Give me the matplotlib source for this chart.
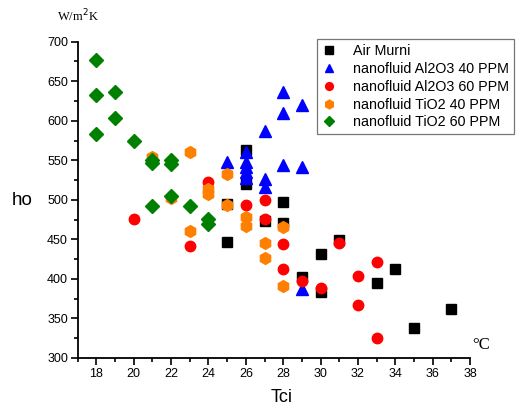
import numpy as np
import matplotlib
matplotlib.use('Agg')
import matplotlib.pyplot as plt
from matplotlib.ticker import MultipleLocator

# data (Tci in degC, ho in W/m2K)
air_x = [26, 26, 25, 25, 27, 28, 28, 29, 30, 30, 31, 33, 34, 35, 37]
air_y = [563, 520, 495, 447, 473, 497, 471, 403, 432, 384, 449, 395, 412, 338, 362]

al40_x = [25, 26, 26, 26, 26, 26, 27, 27, 27, 28, 28, 28, 29, 29, 29]
al40_y = [548, 561, 548, 542, 535, 528, 587, 527, 516, 637, 610, 544, 620, 542, 387]

al60_x = [20, 23, 24, 26, 27, 27, 28, 28, 29, 30, 31, 32, 32, 33, 33]
al60_y = [476, 442, 523, 493, 500, 476, 444, 413, 397, 388, 445, 404, 367, 421, 325]

ti40_x = [21, 22, 23, 23, 24, 24, 25, 25, 26, 26, 27, 27, 28, 28]
ti40_y = [554, 502, 560, 461, 514, 508, 533, 494, 478, 467, 446, 426, 466, 391]

ti60_x = [18, 18, 18, 19, 19, 20, 21, 21, 21, 22, 22, 22, 23, 24, 24]
ti60_y = [677, 633, 583, 637, 603, 574, 551, 546, 492, 551, 545, 505, 492, 476, 469]

labels = ['Air Murni', 'nanofluid Al2O3 40 PPM', 'nanofluid Al2O3 60 PPM',
          'nanofluid TiO2 40 PPM', 'nanofluid TiO2 60 PPM']

plt.rcParams['font.family'] = ['Liberation Sans', 'DejaVu Sans']

fig = plt.figure(figsize=(5.16, 4.07), dpi=100)
ax = fig.add_axes([0.1506, 0.1204, 0.7604, 0.7771])

ax.plot(air_x, air_y, 's', color='black', ms=7.5, ls='none', label=labels[0])
ax.plot(al40_x, al40_y, '^', color='#0000ff', ms=8, ls='none', label=labels[1])
ax.plot(al60_x, al60_y, 'o', color='#ff0000', ms=7.5, ls='none', label=labels[2])
ax.plot(ti40_x, ti40_y, 'h', color='#ff8000', ms=8.5, ls='none', label=labels[3])
ax.plot(ti60_x, ti60_y, 'D', color='#008000', ms=7, ls='none', label=labels[4])

ax.set_xlim(17, 38)
ax.set_ylim(300, 700)
ax.xaxis.set_major_locator(MultipleLocator(2))
ax.xaxis.set_minor_locator(MultipleLocator(1))
ax.yaxis.set_major_locator(MultipleLocator(50))
ax.yaxis.set_minor_locator(MultipleLocator(25))
ax.set_xticks([18, 20, 22, 24, 26, 28, 30, 32, 34, 36, 38])

for side in ['top', 'right']:
    ax.spines[side].set_visible(False)
for side in ['left', 'bottom']:
    ax.spines[side].set_linewidth(1.3)
ax.tick_params(which='major', direction='out', length=5, width=1.2, labelsize=9, pad=2)
ax.tick_params(which='minor', direction='out', length=3, width=1.2)

fig.text(282 / 516, 1 - 398 / 407, 'Tci', fontsize=13, ha='center', va='center')
fig.text(22 / 516, 1 - 201 / 407, 'ho', fontsize=13.5, ha='center', va='center')
fig.text(78 / 516, 1 - 16 / 407, 'W/m$^2$K', fontsize=9, ha='center', va='center',
         family=['Liberation Serif', 'DejaVu Serif'])
fig.text(481 / 516, 1 - 345 / 407, '°C', fontsize=12, ha='center', va='center',
         family=['Liberation Serif', 'DejaVu Serif'])

leg = fig.legend(loc='upper left', bbox_to_anchor=(316.5 / 516, 1 - 39 / 407),
                 fontsize=10.3, frameon=True, fancybox=False, markerscale=0.75,
                 handlelength=1.1, handletextpad=1.1, borderpad=0.35,
                 labelspacing=0.27, borderaxespad=0)
leg.get_frame().set_edgecolor('#555555')
leg.get_frame().set_linewidth(0.9)

fig.savefig('out.png', dpi=100)
